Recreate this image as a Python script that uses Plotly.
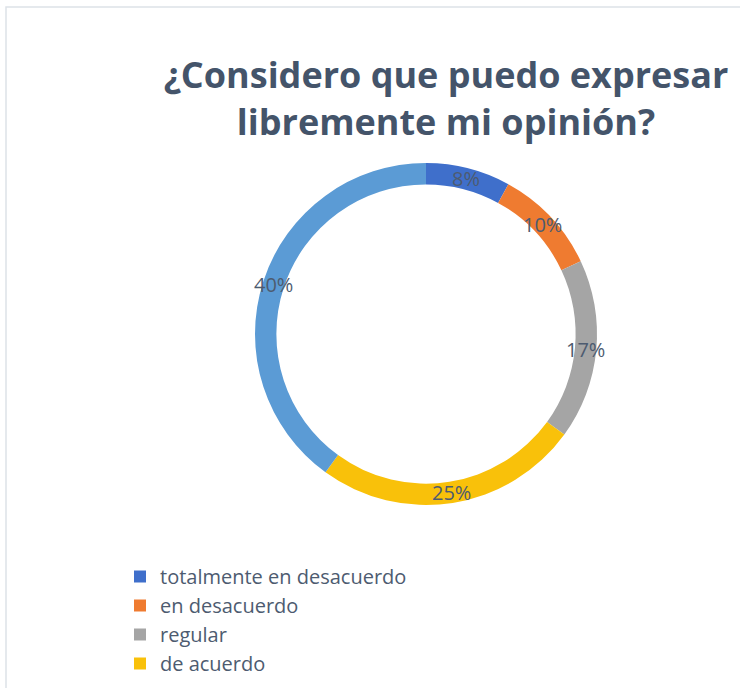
import math
import plotly.graph_objects as go

# Survey answers and their share of respondents (%)
labels = [
    "totalmente en desacuerdo",
    "en desacuerdo",
    "regular",
    "de acuerdo",
    "totalmente de acuerdo",
]
values = [8, 10, 17, 25, 40]
colors = ["#3F6FCB", "#EF7B30", "#A5A5A5", "#F9C10A", "#5B9BD5"]

# Answers listed in the legend box (the last one does not fit in the frame)
legend_count = 4

title_text = "¿Considero que puedo expresar<br>libremente mi opinión?"

W, H = 740, 688
text_color = "#4D5B70"
title_color = "#44546A"
font_family = "Open Sans"

# Donut geometry (pixels)
cx, cy, R = 426, 334, 171
hole = 0.875
r_mid = R * (1 + hole) / 2

dom_x = [(cx - R) / W, (cx + R) / W]
dom_y = [(H - cy - R) / H, (H - cy + R) / H]

fig = go.Figure()

# Legend carrier: same answers and colours in a one-pixel domain tucked
# under the ring, so only its legend entries are seen
lx0 = cx / W
ly0 = (H - cy + r_mid) / H
fig.add_trace(
    go.Pie(
        labels=labels[:legend_count],
        values=values[:legend_count],
        sort=False,
        marker=dict(colors=colors[:legend_count], line=dict(width=0)),
        textinfo="none",
        hoverinfo="skip",
        domain=dict(x=[lx0, lx0 + 1 / W], y=[ly0, ly0 + 1 / H]),
        showlegend=True,
    )
)

# The donut itself
fig.add_trace(
    go.Pie(
        labels=labels,
        values=values,
        sort=False,
        direction="clockwise",
        rotation=0,
        hole=hole,
        marker=dict(colors=colors, line=dict(width=0)),
        textinfo="none",
        hoverinfo="label+percent",
        domain=dict(x=dom_x, y=dom_y),
        showlegend=False,
    )
)

# Percentage labels centred on the ring, at each slice's mid-angle
total = sum(values)
cum = 0
annotations = []
for v in values:
    mid = (cum + v / 2) / total * 2 * math.pi
    cum += v
    px = cx + r_mid * math.sin(mid)
    py = (H - cy) + r_mid * math.cos(mid)
    annotations.append(
        dict(
            x=px / W,
            y=py / H,
            xref="paper",
            yref="paper",
            xanchor="center",
            yanchor="middle",
            text=f"{round(v / total * 100)}%",
            showarrow=False,
            font=dict(family=font_family, size=20, color=text_color),
        )
    )

fig.update_layout(
    width=W,
    height=H,
    margin=dict(l=0, r=0, t=0, b=0, autoexpand=False),
    paper_bgcolor="white",
    plot_bgcolor="white",
    title=dict(
        text=f"<b>{title_text}</b>",
        x=446 / W,
        xanchor="center",
        xref="paper",
        y=1 - 88 / H,
        yanchor="top",
        yref="container",
        font=dict(family=font_family, size=36, color=title_color),
    ),
    legend=dict(
        x=(134 - 14) / W,
        xanchor="left",
        y=1 - 557 / H,
        yanchor="top",
        font=dict(family=font_family, size=20, color=text_color),
        bgcolor="rgba(0,0,0,0)",
        traceorder="normal",
    ),
    annotations=annotations,
    shapes=[
        # chart frame
        dict(
            type="rect",
            xref="paper",
            yref="paper",
            x0=6 / W,
            x1=1.2,
            y0=-0.2,
            y1=1 - 7 / H,
            line=dict(color="#DDE2E8", width=1.5),
            fillcolor="rgba(0,0,0,0)",
            layer="below",
        )
    ],
)

fig.write_html("out.html")
